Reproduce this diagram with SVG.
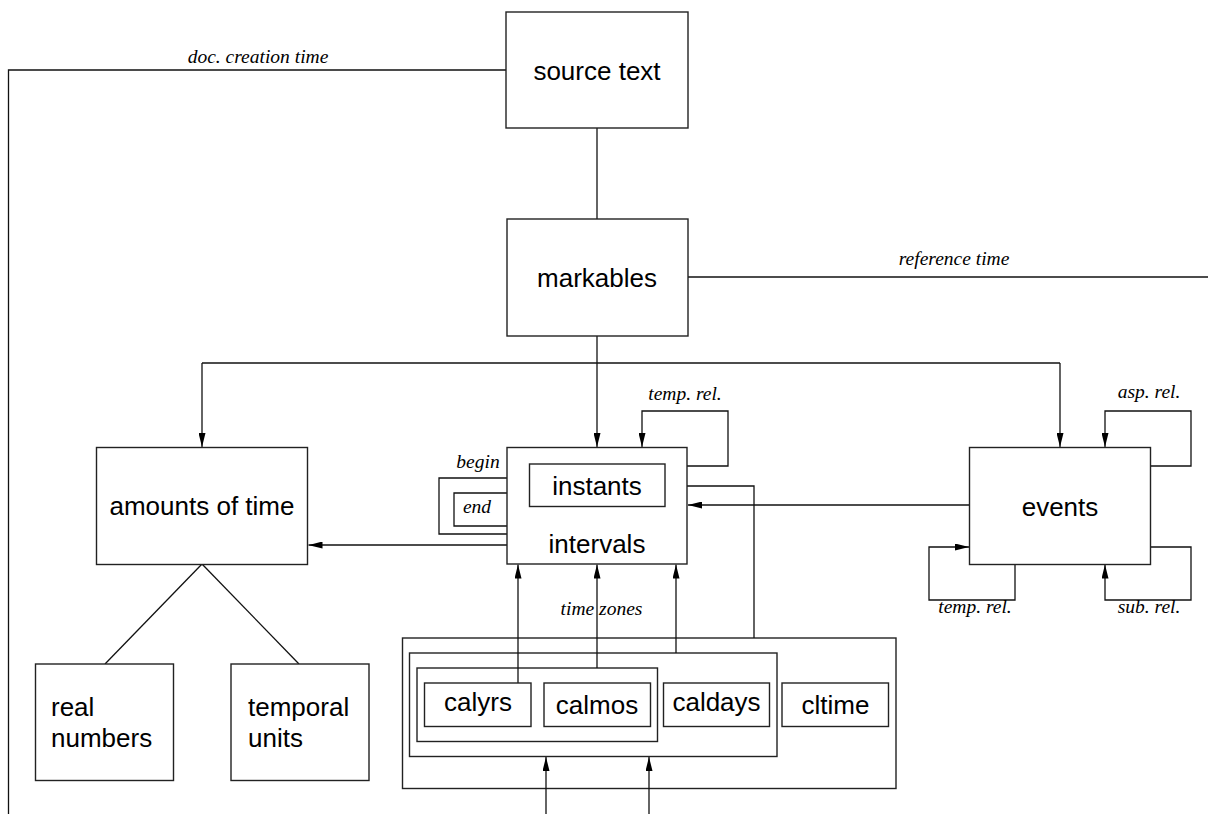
<svg xmlns="http://www.w3.org/2000/svg" width="1208" height="814" viewBox="0 0 1208 814">
<style>
.box{fill:#fff;stroke:#222;stroke-width:1.4}
.cont{fill:none;stroke:#222;stroke-width:1.4}
.ln{fill:none;stroke:#111;stroke-width:1.3}
.t{font-family:"Liberation Sans",Arial,sans-serif;font-size:26px;fill:#000;text-anchor:middle}
.tl{font-family:"Liberation Sans",Arial,sans-serif;font-size:26px;fill:#000}
.lab{font-family:"Liberation Serif","Times New Roman",serif;font-style:italic;font-size:19.5px;fill:#000;text-anchor:middle}
</style>
<defs>
<marker id="arr" markerWidth="14" markerHeight="7" refX="14" refY="3.5" orient="auto" markerUnits="userSpaceOnUse">
<path d="M0,0 L14,3.5 L0,7 z" fill="#000"/>
</marker>
</defs>
<rect width="1208" height="814" fill="#fff"/>
<g id="time-zones-outer">
<rect class="cont" x="402.5" y="638" width="493.5" height="150.5"/>
</g>
<g id="caldays-group">
<rect class="cont" x="409.5" y="653" width="367.5" height="103.5"/>
</g>
<g id="calmos-group">
<rect class="cont" x="417" y="668" width="240.5" height="73.5"/>
</g>
<g id="connectors">
<polyline class="ln" points="506,70 8.5,70 8.5,814"/>
<line class="ln" x1="597" y1="128" x2="597" y2="219"/>
<line class="ln" x1="688" y1="277" x2="1208" y2="277"/>
<line class="ln" x1="597" y1="336" x2="597" y2="447" marker-end="url(#arr)"/>
<line class="ln" x1="202" y1="363" x2="1060" y2="363"/>
<line class="ln" x1="202" y1="363" x2="202" y2="447" marker-end="url(#arr)"/>
<line class="ln" x1="1060" y1="363" x2="1060" y2="447" marker-end="url(#arr)"/>
<polyline class="ln" points="687,466 728,466 728,411 642,411 642,447" marker-end="url(#arr)"/>
<polyline class="ln" points="1151,466 1191,466 1191,411 1105,411 1105,447" marker-end="url(#arr)"/>
<polyline class="ln" points="1015,564 1015,600 929,600 929,547 969,547" marker-end="url(#arr)"/>
<polyline class="ln" points="1151,547 1191,547 1191,600 1105,600 1105,564.5" marker-end="url(#arr)"/>
<polyline class="ln" points="507,534 439,534 439,478 529,478" marker-end="url(#arr)"/>
<polyline class="ln" points="507,526 454,526 454,493 529,493" marker-end="url(#arr)"/>
<line class="ln" x1="507" y1="545" x2="308.5" y2="545" marker-end="url(#arr)"/>
<line class="ln" x1="969" y1="505" x2="688" y2="505" marker-end="url(#arr)"/>
<polyline class="ln" points="754,638 754,486 665.5,486" marker-end="url(#arr)"/>
<line class="ln" x1="518" y1="683" x2="518" y2="564.5" marker-end="url(#arr)"/>
<line class="ln" x1="597" y1="668" x2="597" y2="564.5" marker-end="url(#arr)"/>
<line class="ln" x1="676" y1="653" x2="676" y2="564.5" marker-end="url(#arr)"/>
<line class="ln" x1="546" y1="814" x2="546" y2="757" marker-end="url(#arr)"/>
<line class="ln" x1="649" y1="814" x2="649" y2="757" marker-end="url(#arr)"/>
<line class="ln" x1="202" y1="564" x2="105" y2="664"/>
<line class="ln" x1="202" y1="564" x2="299" y2="664"/>
<text class="lab" x="258" y="63">doc. creation time</text>
<text class="lab" x="954" y="265">reference time</text>
<text class="lab" x="685" y="400">temp. rel.</text>
<text class="lab" x="1149" y="398">asp. rel.</text>
<text class="lab" x="478" y="468">begin</text>
<text class="lab" x="477" y="513">end</text>
<text class="lab" x="975" y="613">temp. rel.</text>
<text class="lab" x="1149" y="613">sub. rel.</text>
<text class="lab" x="601.5" y="615">time zones</text>
</g>
<g id="source-text">
<rect class="box" x="506" y="12" width="182" height="116"/>
<text class="t" x="597" y="80">source text</text>
</g>
<g id="markables">
<rect class="box" x="507" y="219" width="181" height="117"/>
<text class="t" x="597" y="287">markables</text>
</g>
<g id="amounts-of-time">
<rect class="box" x="96.5" y="447.5" width="211" height="117"/>
<text class="t" x="202" y="515">amounts of time</text>
</g>
<g id="intervals">
<rect class="box" x="507" y="447.5" width="180" height="116.5"/>
<text class="t" x="597" y="553">intervals</text>
</g>
<g id="instants">
<rect class="box" x="529.5" y="464" width="135.5" height="42.5"/>
<text class="t" x="597" y="495">instants</text>
</g>
<g id="events">
<rect class="box" x="969.5" y="447.5" width="181" height="117"/>
<text class="t" x="1060" y="515.5">events</text>
</g>
<g id="real-numbers">
<rect class="box" x="35.5" y="664" width="138" height="116.5"/>
<text class="tl" x="51" y="716">real</text>
<text class="tl" x="51" y="746.5">numbers</text>
</g>
<g id="temporal-units">
<rect class="box" x="231" y="664" width="138" height="116.5"/>
<text class="tl" x="248" y="716">temporal</text>
<text class="tl" x="248" y="746.5">units</text>
</g>
<g id="calyrs">
<rect class="box" x="424.5" y="683" width="106.5" height="43.5"/>
<text class="t" x="478" y="711">calyrs</text>
</g>
<g id="calmos">
<rect class="box" x="544" y="683" width="106.5" height="43.5"/>
<text class="t" x="597" y="714">calmos</text>
</g>
<g id="caldays">
<rect class="box" x="663.5" y="683" width="106" height="43.5"/>
<text class="t" x="716.5" y="711">caldays</text>
</g>
<g id="cltime">
<rect class="box" x="782" y="683" width="106.5" height="43.5"/>
<text class="t" x="835.5" y="714">cltime</text>
</g>
</svg>
